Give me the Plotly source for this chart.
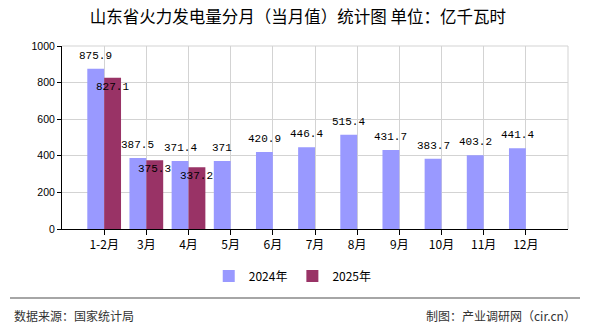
import plotly.graph_objects as go

categories = ["1-2月", "3月", "4月", "5月", "6月", "7月", "8月", "9月", "10月", "11月", "12月"]
values_2024 = [875.9, 387.5, 371.4, 371, 420.9, 446.4, 515.4, 431.7, 383.7, 403.2, 441.4]
values_2025 = [827.1, 375.3, 337.2, None, None, None, None, None, None, None, None]
labels_2024 = ["875.9", "387.5", "371.4", "371", "420.9", "446.4", "515.4", "431.7", "383.7", "403.2", "441.4"]
labels_2025 = ["827.1", "375.3", "337.2", "", "", "", "", "", "", "", ""]
y_ticks = [0, 200, 400, 600, 800, 1000]

CJK = "Noto Sans CJK SC"
NUM = "Liberation Mono"
BAR_HALF_OFFSET = 8.45  # px: half of one bar's width within the group

fig = go.Figure()
fig.add_trace(go.Bar(
    x=categories, y=values_2024, name="2024年",
    marker=dict(color="#9999FF", line=dict(width=0)),
))
fig.add_trace(go.Bar(
    x=categories, y=values_2025, name="2025年",
    marker=dict(color="#993366", line=dict(width=0)),
))

for c, v, t in zip(categories, values_2024, labels_2024):
    if v is not None and t:
        fig.add_annotation(x=c, y=v, text=t, showarrow=False, xshift=-BAR_HALF_OFFSET,
                           yshift=13, xanchor="center", yanchor="middle",
                           font=dict(family=NUM, size=11, color="#000000"))
for c, v, t in zip(categories, values_2025, labels_2025):
    if v is not None and t:
        fig.add_annotation(x=c, y=v, text=t, showarrow=False, xshift=BAR_HALF_OFFSET,
                           yshift=-9, xanchor="center", yanchor="middle",
                           font=dict(family=NUM, size=11, color="#000000"))

fig.update_layout(
    width=590, height=330,
    margin=dict(l=62, r=22, t=46, b=101),
    paper_bgcolor="#FFFFFF", plot_bgcolor="#FFFFFF",
    barmode="group", bargap=0.2, bargroupgap=0,
    title=dict(text="山东省火力发电量分月（当月值）统计图 单位：亿千瓦时",
               x=0.505, xanchor="center", y=1 - 17 / 330, yanchor="middle",
               font=dict(family=CJK, size=16.5, color="#000000")),
    legend=dict(orientation="h", x=0.456, xanchor="center", y=-0.257, yanchor="middle",
                font=dict(family=CJK, size=12, color="#000000"),
                itemwidth=30, traceorder="normal"),
    showlegend=True,
)

fig.update_xaxes(
    type="category", range=[-1, 11],
    showgrid=True, gridcolor="#D3D3D3", gridwidth=1,
    showline=True, linecolor="#000000", linewidth=1,
    ticks="outside", ticklen=5, tickcolor="#000000",
    tickfont=dict(family=CJK, size=12, color="#000000"),
    zeroline=False,
)
fig.update_yaxes(
    range=[0, 1000], tickvals=y_ticks,
    showgrid=True, gridcolor="#D3D3D3", gridwidth=1,
    showline=True, linecolor="#000000", linewidth=1,
    ticks="outside", ticklen=4, tickcolor="#000000",
    tickfont=dict(family="Liberation Sans", size=10.5, color="#000000"),
    zeroline=False,
)

# right border and top border of the plot area
fig.add_shape(type="line", xref="paper", yref="paper", x0=1, x1=1, y0=0, y1=1,
              line=dict(color="#D3D3D3", width=1))
fig.add_shape(type="line", xref="paper", yref="paper", x0=0, x1=1, y0=1, y1=1,
              line=dict(color="#D3D3D3", width=1))
# footer separator
fig.add_shape(type="line", xref="paper", yref="paper", x0=-0.1028, x1=1.0237,
              y0=-0.377, y1=-0.377, line=dict(color="#888888", width=1.5))

fig.add_annotation(text="数据来源：国家统计局", xref="paper", yref="paper",
                   x=-0.0988, y=-0.47, xanchor="left", yanchor="middle", showarrow=False,
                   font=dict(family=CJK, size=12, color="#333333"))
fig.add_annotation(text="制图：产业调研网（cir.cn）", xref="paper", yref="paper",
                   x=1.0198, y=-0.47, xanchor="right", yanchor="middle", showarrow=False,
                   font=dict(family=CJK, size=12, color="#333333"))

fig.write_html("out.html")
